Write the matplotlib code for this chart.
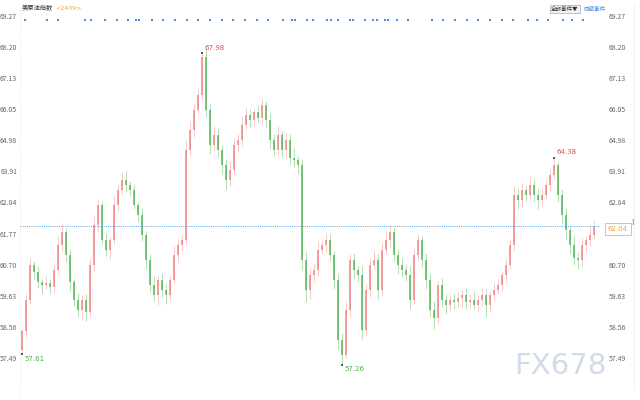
import matplotlib
matplotlib.use("Agg")
import matplotlib.pyplot as plt

plt.rcParams['font.family'] = ['Noto Sans CJK SC', 'DejaVu Sans']

# closing prices, one per candle
closes = [58.40, 59.49, 60.69, 60.45, 60.10, 60.00, 60.07, 59.93, 60.52, 61.38, 61.82, 61.03,
          60.10, 59.49, 59.14, 59.49, 59.07, 60.69, 62.07, 62.75, 61.55, 61.21, 61.55, 62.75,
          63.27, 63.61, 63.44, 63.27, 62.75, 62.41, 61.72, 60.86, 60.00, 59.66, 60.17, 59.83,
          59.66, 60.17, 61.03, 61.38, 61.55, 64.65, 65.33, 66.02, 66.54, 67.85, 66.02, 64.82,
          65.16, 64.65, 64.13, 63.61, 63.96, 64.82, 64.99, 65.51, 65.85, 65.68, 65.95, 65.75,
          66.19, 65.68, 64.99, 64.65, 65.16, 64.65, 64.99, 64.37, 64.30, 64.13, 60.86, 59.83,
          60.34, 60.52, 61.21, 61.38, 61.55, 61.03, 60.17, 58.11, 57.59, 59.14, 60.86, 60.52,
          60.34, 58.45, 59.83, 60.69, 60.86, 59.83, 61.21, 61.55, 61.82, 61.03, 60.69, 60.52,
          60.34, 59.49, 61.03, 61.55, 60.86, 60.17, 59.14, 58.87, 60.00, 59.49, 59.31, 59.49,
          59.42, 59.55, 59.66, 59.42, 59.49, 59.31, 59.49, 59.66, 59.31, 59.66, 59.83, 60.00,
          60.34, 60.69, 61.38, 63.10, 62.92, 63.27, 63.10, 63.44, 63.10, 62.92, 63.10, 63.44,
          63.79, 64.13, 63.10, 62.41, 61.89, 61.38, 60.93, 60.86, 61.38, 61.55, 61.72, 62.04]
first_open = 57.75
opens = [first_open] + closes[:-1]

wick_up = [0.10, 0.20, 0.25, 0.15, 0.20, 0.10, 0.25, 0.15, 0.20, 0.30, 0.30, 0.15,
           0.20, 0.10, 0.25, 0.15, 0.20, 0.25, 0.30, 0.20, 0.15, 0.25, 0.10, 0.30,
           0.20, 0.25, 0.30, 0.15, 0.20, 0.10, 0.25, 0.15, 0.20, 0.30, 0.15, 0.25,
           0.20, 0.15, 0.30, 0.25, 0.20, 0.35, 0.30, 0.20, 0.25, 0.13, 0.30, 0.20,
           0.35, 0.25, 0.15, 0.20, 0.30, 0.25, 0.20, 0.30, 0.25, 0.20, 0.15, 0.25,
           0.20, 0.15, 0.25, 0.20, 0.30, 0.15, 0.25, 0.20, 0.35, 0.15, 0.20, 0.30,
           0.25, 0.20, 0.30, 0.15, 0.25, 0.20, 0.15, 0.20, 0.25, 0.30, 0.20, 0.25,
           0.15, 0.30, 0.20, 0.25, 0.30, 0.20, 0.25, 0.30, 0.25, 0.15, 0.20, 0.25,
           0.20, 0.30, 0.25, 0.20, 0.15, 0.25, 0.20, 0.30, 0.15, 0.25, 0.20, 0.15,
           0.25, 0.20, 0.15, 0.25, 0.20, 0.30, 0.15, 0.25, 0.20, 0.15, 0.25, 0.20,
           0.15, 0.25, 0.20, 0.30, 0.20, 0.25, 0.15, 0.30, 0.20, 0.25, 0.20, 0.15,
           0.20, 0.25, 0.10, 0.20, 0.25, 0.15, 0.30, 0.20, 0.25, 0.15, 0.30, 0.20]
wick_dn = [0.14, 0.20, 0.15, 0.25, 0.20, 0.30, 0.15, 0.25, 0.20, 0.15, 0.20, 0.25,
           0.30, 0.20, 0.25, 0.35, 0.30, 0.15, 0.20, 0.25, 0.15, 0.20, 0.30, 0.15,
           0.20, 0.15, 0.25, 0.20, 0.15, 0.25, 0.20, 0.30, 0.25, 0.20, 0.35, 0.25,
           0.30, 0.20, 0.15, 0.25, 0.20, 0.15, 0.20, 0.25, 0.15, 0.20, 0.25, 0.30,
           0.20, 0.25, 0.30, 0.35, 0.20, 0.15, 0.25, 0.20, 0.15, 0.25, 0.20, 0.15,
           0.20, 0.25, 0.30, 0.20, 0.15, 0.25, 0.30, 0.20, 0.25, 0.30, 0.35, 0.40,
           0.30, 0.25, 0.20, 0.15, 0.25, 0.20, 0.30, 0.35, 0.33, 0.10, 0.25, 0.30,
           0.25, 0.30, 0.20, 0.25, 0.15, 0.30, 0.20, 0.15, 0.25, 0.20, 0.30, 0.25,
           0.20, 0.30, 0.15, 0.20, 0.25, 0.30, 0.25, 0.40, 0.20, 0.25, 0.30, 0.20,
           0.25, 0.20, 0.30, 0.25, 0.20, 0.15, 0.25, 0.20, 0.40, 0.25, 0.20, 0.15,
           0.20, 0.25, 0.15, 0.20, 0.30, 0.25, 0.20, 0.15, 0.25, 0.30, 0.20, 0.15,
           0.20, 0.15, 0.25, 0.30, 0.35, 0.30, 0.25, 0.30, 0.20, 0.25, 0.20, 0.15]

highs = [max(o, c) + w for o, c, w in zip(opens, closes, wick_up)]
lows = [min(o, c) - w for o, c, w in zip(opens, closes, wick_dn)]

# axis ticks
ticks = [57.49, 58.56, 59.63, 60.70, 61.77, 62.84, 63.91, 64.98, 66.05, 67.13, 68.20, 69.27]
tick_labels = ['57.49', '58.56', '59.63', '60.70', '61.77', '62.84', '63.91', '64.98',
               '66.05', '67.13', '68.20', '69.27']
# on the right the 61.77 label sits under the last-price box
right_labels = ['57.49', '58.56', '59.63', '60.70', '', '62.84', '63.91', '64.98',
                '66.05', '67.13', '68.20', '69.27']
last_price = 62.04

# event markers along the top (candle positions)
events = [0.75, 6.25, 9, 15.75, 17.25, 20.75, 23.75, 26.5, 28.5, 29.25, 32.5, 35.25, 38.25,
          41.25, 44, 47, 50, 52.75, 55.75, 58.75, 61.5, 65.25, 67.5, 68.25, 71.25, 72.75,
          76.25, 77.25, 79, 82, 82.75, 85.75, 87.75, 88.75, 90.75, 91.5, 93.75, 96.5, 102.5,
          105.25, 108.25, 111.25, 114, 117, 120, 122.75, 126.5, 128.75, 131.5, 135.25,
          137.5, 140.25]
event_level = 69.12

# labelled extremes: (candle, price, text, colour)
marks = [(0, 57.61, '57.61', '#4cae4c'), (45, 67.98, '67.98', '#e0504f'),
         (80, 57.26, '57.26', '#4cae4c'), (133, 64.38, '64.38', '#e0504f')]

up_col = '#f08a8a'
dn_col = '#5cb85c'

fig = plt.figure(figsize=(6.4, 4), dpi=100)
ax = fig.add_axes([20/640, 4/400, 580/640, 388/400])

n = len(closes)
xs = list(range(n))
for i in xs:
    o, c = opens[i], closes[i]
    col = up_col if c >= o else dn_col
    ax.vlines(i, lows[i], highs[i], color=col, lw=0.7, alpha=0.45)
    ax.bar(i, max(abs(c - o), 0.03), bottom=min(o, c), width=0.55, color=col,
           alpha=0.8, linewidth=0)

ax.set_xlim(-0.5, n + 0.5)
ax.set_ylim(56.18, 69.53)

ax.axhline(last_price, color='#5aa5e8', lw=0.7, ls=(0, (1, 1.2)))
ax.scatter(events, [event_level] * len(events), marker='s', s=2.5, color='#3f8fdf',
           linewidths=0)

for i, p, t, col in marks:
    ax.scatter([i], [p], marker='s', s=3, color='#555555', linewidths=0, zorder=5)
    if p > 60:
        ax.text(i + 0.6, p + 0.08, t, color=col, fontsize=5, ha='left', va='bottom',
                family='DejaVu Sans')
    else:
        ax.text(i + 0.6, p - 0.05, t, color=col, fontsize=5, ha='left', va='top',
                family='DejaVu Sans')

ax.set_yticks(ticks)
ax.set_yticklabels(tick_labels)
ax.tick_params(axis='y', length=0, labelsize=5, labelcolor='#666666', pad=2)
ax.set_xticks([])
for s in ax.spines.values():
    s.set_visible(False)
ax.axvline(-0.5, color='#dddddd', lw=0.6, ls=(0, (1, 1.5)))

axr = ax.twinx()
axr.set_ylim(ax.get_ylim())
axr.set_yticks(ticks)
axr.set_yticklabels(right_labels)
axr.tick_params(axis='y', length=0, labelsize=5, labelcolor='#666666', pad=6)
for s in axr.spines.values():
    s.set_visible(False)

# last price box on the right
fig.text(608/640, 1 - 229/400, '62.04', color='#f0a040', fontsize=5, ha='left', va='center',
         family='DejaVu Sans',
         bbox=dict(boxstyle='square,pad=0.45', fc='white', ec='#f5b060', lw=0.6))
fig.add_artist(plt.Line2D([633/640, 633/640], [1 - 224/400, 1 - 219/400], color='#f0a040', lw=1))
fig.add_artist(plt.Line2D([634/640, 634/640], [0.03, 0.99], color='#eeeeee', lw=0.6))

# header texts
fig.text(22/640, 1 - 8/400, '美原油指数', fontsize=4.5, color='#333333', va='center')
fig.text(55/640, 1 - 8/400, '<2409>', fontsize=4.5, color='#f5a040', va='center',
         family='DejaVu Sans')
fig.text(551/640, 1 - 9/400, '全部事件▼', fontsize=4, color='#333333', va='center',
         bbox=dict(boxstyle='square,pad=0.2', fc='#f2f2f2', ec='#aaaaaa', lw=0.5))
fig.text(583/640, 1 - 9/400, '隐藏事件', fontsize=4, color='#3f8fdf', va='center')

# watermark
fig.text(514/640, 1 - 366/400, 'FX678', fontsize=21, color='#c9d6e6', alpha=0.85,
         va='center', ha='left', family='DejaVu Sans')

fig.savefig('out.png', dpi=100, facecolor='white')
